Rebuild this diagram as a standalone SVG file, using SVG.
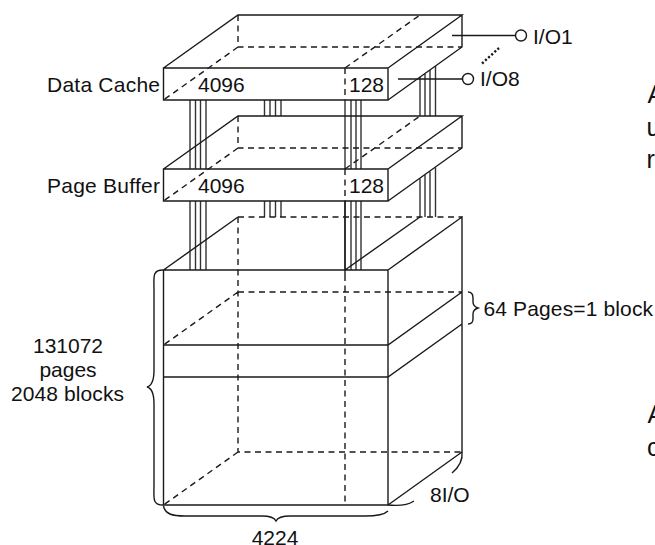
<svg xmlns="http://www.w3.org/2000/svg" width="655" height="545" viewBox="0 0 655 545">
<style>
text{font-family:"Liberation Sans",Arial,sans-serif;font-size:21px;fill:#111}
.b{font-size:25px}
.s{fill:none;stroke:#1a1a1a;stroke-width:1.400}
.d{fill:none;stroke:#1a1a1a;stroke-width:1.400;stroke-dasharray:6 4.500}
.p{fill:none;stroke:#333;stroke-width:1.400}
.m{text-anchor:middle}
</style>
<rect width="655" height="545" fill="#fff"/>
<g id="connectors">
<path class="p" d="M190 100V169M195.500 100V169M200.500 100V169M206 100V169M190 201V270M195.500 201V270M200.500 201V270M206 201V270"/>
<path class="p" d="M264.500 100V116M270 100V116M275.500 100V116M281 100V116M264.500 201V217M270 201V217M275.500 201V217M281 201V217"/>
<path class="p" d="M345 100V169M351 100V169M356 100V169M361 100V169M345 201V270M351 201V270M356 201V270M361 201V270"/>
<path class="p" d="M420 77V116M425 74V116M430 70V116M435.500 66V116M420 178.500V217M425 175V217M430 171.500V217M435.500 167.500V217"/>
<path class="s" d="M452 35.500H516M398 79H462"/>
<circle class="s" cx="521" cy="35.500" r="5.500"/>
<circle class="s" cx="468" cy="79" r="5.500"/>
<path d="M482 63.500L499 48" fill="none" stroke="#1a1a1a" stroke-width="2.400" stroke-dasharray="2.200 2"/>
</g>
<g id="data-cache">
<path class="s" d="M163.500 68H388V100H163.500ZM163.500 68L238 15H462L388 68M462 15V47L388 100"/>
<path class="d" d="M238 15V47H462M238 47L163.500 100M345 68V100M345 68L420 15"/>
<text x="47" y="91.500" textLength="113">Data Cache</text>
<text x="198" y="91.500">4096</text>
<text x="349" y="91.500">128</text>
</g>
<g id="page-buffer">
<path class="s" d="M163.500 169H388V201H163.500ZM163.500 169L238 116H462L388 169M462 116V148L388 201"/>
<path class="d" d="M238 116V148H462M238 148L163.500 201M345 169V201M345 169L420 116"/>
<text x="47" y="192.500" textLength="113">Page Buffer</text>
<text x="198" y="192.500">4096</text>
<text x="349" y="192.500">128</text>
</g>
<g id="cell-array">
<path class="s" d="M163.500 270H388V505H163.500ZM163.500 270L238 217M388 270L462 217V452L388 505M345 270L420 217M345 201V275M163.500 345H388L462 292M163.500 377H388L462 324"/>
<path class="d" d="M238 217V452H462M238 217H462M238 292H462M238 292L163.500 345M238 452L163.500 505M345 275V505"/>
<path class="s" d="M163 270C152 270 154 277 154 290V370C154 382 151 386 147 387C151 388 154 392 154 404V485C154 498 152 505 163 505"/>
<path class="s" d="M163.500 506C165 514 172 516 185 516H262C270 516 274 517 276 521C278 517 282 516 290 516H365C378 516 385 514 388 511"/>
<path class="s" d="M468 292C472 292 473 294 473 298V302C473 306 475 307 478 308C475 309 473 310 473 314V319C473 322 472 324 468 324"/>
<path class="s" d="M388 505C398 506 408 505 414 501M462 452C463 460 459 467 452 473"/>
<text class="m" x="68" y="352.500">131072</text>
<text class="m" x="68" y="376.500">pages</text>
<text x="11" y="400.500" textLength="113">2048 blocks</text>
<text class="m" x="275" y="545">4224</text>
<text x="430" y="502">8I/O</text>
<text x="483.500" y="315.500" textLength="169.500">64 Pages=1 block</text>
</g>
<g id="labels">
<text x="533" y="43.500">I/O1</text>
<text x="480" y="86">I/O8</text>
<text class="b" x="647.500" y="103">A</text>
<text class="b" x="646.500" y="135.500">u</text>
<text class="b" x="646.500" y="168">r</text>
<text class="b" x="647.500" y="423">A</text>
<text class="b" x="647" y="456">c</text>
</g>
</svg>
